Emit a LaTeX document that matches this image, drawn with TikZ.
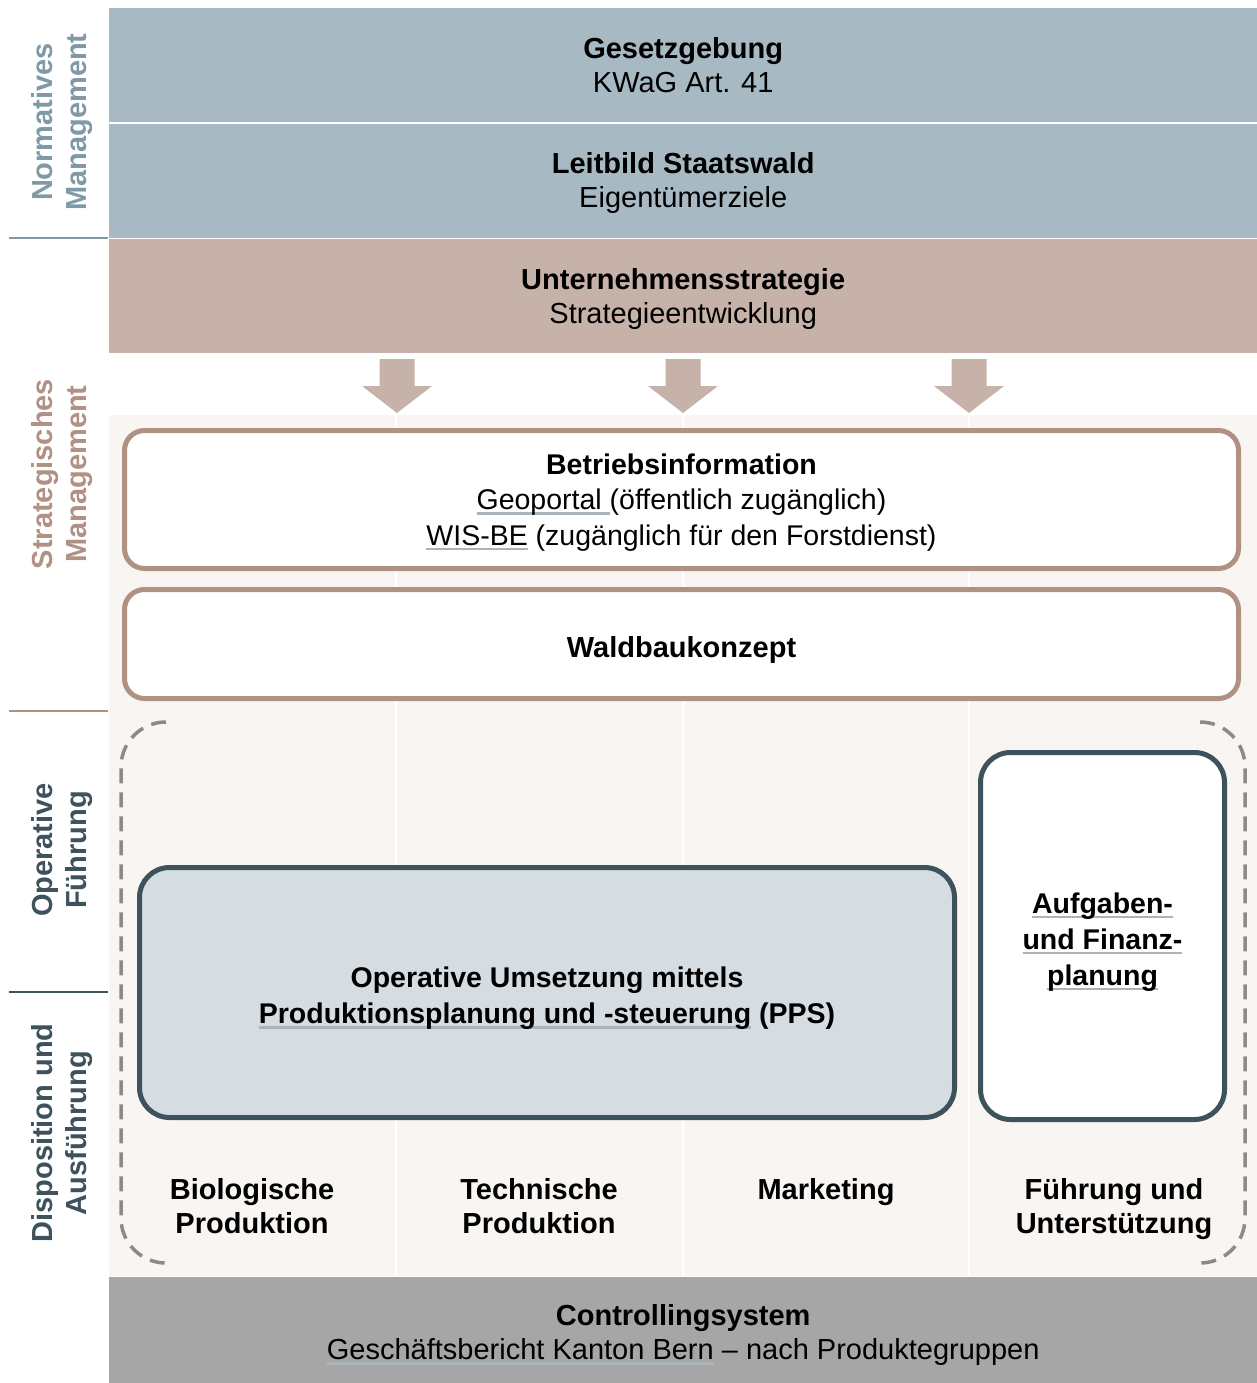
\documentclass[tikz,border=0pt]{standalone}
\usepackage{fontspec}
\setmainfont{Liberation Sans}

\definecolor{normblue}{HTML}{A7B9C3}
\definecolor{normtext}{HTML}{7F9AA6}
\definecolor{stratbrown}{HTML}{C6B2A9}
\definecolor{strattext}{HTML}{B09183}
\definecolor{opdark}{HTML}{3E525C}
\definecolor{ppsfill}{HTML}{D5DDE3}
\definecolor{paper}{HTML}{F8F5F2}
\definecolor{ctrlgray}{HTML}{A6A6A6}
\definecolor{linkgray}{HTML}{ABB4B9}
\definecolor{dashgray}{HTML}{8A8A8A}

% underlined link text
\newsavebox\lnkbox
\newcommand\lnk[1]{\sbox\lnkbox{#1}\rlap{\color{linkgray}\rule[-5pt]{\wd\lnkbox}{2.5pt}}\usebox\lnkbox}

\tikzset{
  band/.style={anchor=north west, minimum width=1148pt, minimum height=114pt, inner sep=0pt},
  infobox/.style={draw=strattext, line width=5pt, fill=white, rounded corners=20pt,
    minimum width=1114pt},
  opbox/.style={draw=opdark, line width=5pt, rounded corners=30pt},
  boxtext/.style={align=center, inner sep=0pt},
  smalltext/.style={boxtext, font=\fontsize{28.5}{36}\selectfont},
  sidelabel/.style={rotate=90, align=center, font=\fontsize{29}{34}\selectfont\bfseries},
  sideline/.style={line width=2pt},
  collabel/.style={align=center, font=\fontsize{29}{34}\selectfont\bfseries},
  bracket/.style={dashgray, line width=3.5pt, dash pattern=on 15pt off 9pt, rounded corners=45pt},
}

\begin{document}
\begin{tikzpicture}[x=1pt, y=-1pt, font=\fontsize{29}{34}\selectfont]
  \useasboundingbox (0,0) rectangle (1257,1383);

  % normative and strategic bands
  \node[band, fill=normblue] (gesetz) at (109,8) {};
  \node[band, fill=normblue] (leitbild) at (109,124) {};
  \node[band, fill=stratbrown] (strategie) at (109,239) {};
  \node[boxtext] (gesetz-t) at (gesetz.center) {\textbf{Gesetzgebung}\\KWaG Art. 41};
  \node[boxtext, yshift=-2pt] (leitbild-t) at (leitbild.center) {\textbf{Leitbild Staatswald}\\Eigentümerziele};
  \node[boxtext, yshift=-3pt] (strategie-t) at (strategie.center) {\textbf{Unternehmensstrategie}\\Strategieentwicklung};

  % light area with columns
  \fill[paper] (109,415) rectangle (1257,1276);
  \foreach \x in {396,683,969}
    \draw[white, line width=2pt] (\x,415) -- (\x,1276);

  % block arrows
  \foreach \x in {397,683,969}
    \fill[stratbrown] ({\x-17.5},359) -- ({\x+17.5},359) -- ({\x+17.5},386) -- ({\x+35},386)
      -- (\x,413) -- ({\x-35},386) -- ({\x-17.5},386) -- cycle;

  \node[infobox, minimum height=138pt] (betrieb) at (681.5,499.5) {};
  \node[infobox, minimum height=109pt] (waldbau) at (681.5,644) {};
  \node[boxtext, yshift=-3pt, font=\fontsize{28.5}{35.5}\selectfont] (betrieb-t) at (betrieb.center)
    {\textbf{Betriebsinformation}\\\lnk{Geoportal }(öffentlich zugänglich)\\\lnk{WIS-BE} (zugänglich für den Forstdienst)};
  \node[boxtext, yshift=-6pt] (waldbau-t) at (waldbau.center) {\textbf{Waldbaukonzept}};

  % operative part
  \draw[bracket] (166,722) -| (121,1000) |- (166,1263);
  \draw[bracket] (1200,722) -| (1245,1000) |- (1200,1263);
  \node[opbox, fill=ppsfill, minimum width=815pt, minimum height=250pt] (pps) at (547,992.5) {};
  \node[opbox, fill=white, minimum width=244pt, minimum height=367pt] (planung) at (1102.5,936) {};
  \node[smalltext, yshift=-6pt] (pps-t) at (pps.center)
    {\textbf{Operative Umsetzung mittels}\\\textbf{\lnk{Produktionsplanung und -steuerung} (PPS)}};
  \node[smalltext, yshift=-6pt] (planung-t) at (planung.center)
    {\textbf{\lnk{Aufgaben-}}\\\textbf{\lnk{und Finanz-}}\\\textbf{\lnk{planung}}};

  \node[collabel] (bio) at (252,1206) {Biologische\\Produktion};
  \node[collabel] (tech) at (539,1206) {Technische\\Produktion};
  \node[collabel] (markt) at (826,1192) {Marketing};
  \node[collabel] (fuehr) at (1114,1209) {Führung und\\Unterstützung};

  % controlling
  \node[band, fill=ctrlgray, minimum height=106pt] (control) at (109,1277) {};
  \node[boxtext, yshift=-5pt] (control-t) at (control.center)
    {\textbf{Controllingsystem}\\\lnk{Geschäftsbericht Kanton Bern} – nach Produktegruppen};

  % side labels
  \node[sidelabel, text=normtext] (normativ) at (62,122) {Normatives\\Management};
  \node[sidelabel, text=strattext] (strategisch) at (62,474) {Strategisches\\Management};
  \node[sidelabel, text=opdark] (operativ) at (62,850) {Operative\\Führung};
  \node[sidelabel, text=opdark] (dispo) at (62,1133) {Disposition und\\Ausführung};
  \draw[sideline, normtext] (9,238) -- (108,238);
  \draw[sideline, strattext] (9,711) -- (108,711);
  \draw[sideline, opdark] (9,992) -- (108,992);
\end{tikzpicture}
\end{document}
